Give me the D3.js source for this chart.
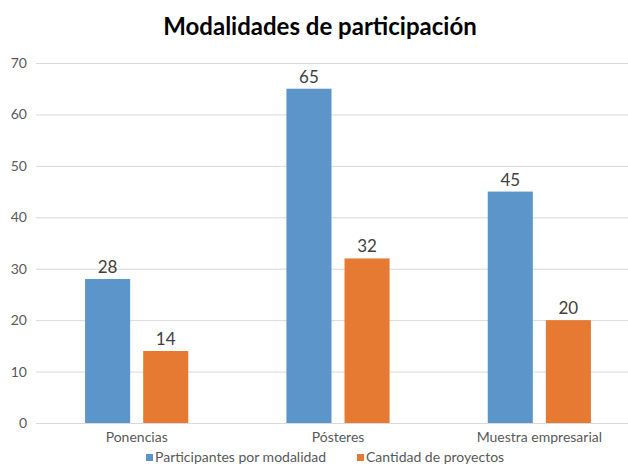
<!DOCTYPE html>
<html><head><meta charset="utf-8">
<script src="https://cdn.jsdelivr.net/npm/d3@7"></script>
<style>body{margin:0;background:#fff;} svg{display:block;font-family:Lato,"Open Sans",sans-serif;}</style>
</head><body><svg id="c" width="628" height="466"></svg>
<script>
const categories = ["Ponencias", "Pósteres", "Muestra empresarial"];
const seriesNames = ["Participantes por modalidad", "Cantidad de proyectos"];
const participantes = [28, 65, 45];
const proyectos = [14, 32, 20];
const yTicks = [0, 10, 20, 30, 40, 50, 60, 70];
const colors = ["#5B95CA", "#E67A33"];

const svg = d3.select("#c");
const x0 = 36, x1 = 640, yTop = 63, yBot = 423;

svg.append("text").attr("x", 320).attr("y", 35).attr("text-anchor", "middle")
  .attr("font-size", 24).attr("font-weight", "bold").attr("fill", "#000")
  .text("Modalidades de participación");

const y = d3.scaleLinear().domain([0, 70]).range([yBot, yTop]);
const x = d3.scaleBand().domain(categories).range([x0, x1]).paddingInner(0).paddingOuter(0);
const xs = d3.scaleBand().domain(seriesNames).range([0, x.bandwidth()]).paddingInner(13/58).paddingOuter(49/58);

const yAxis = d3.axisLeft(y).tickValues(yTicks).tickSize(-(x1 - x0)).tickPadding(9);
const ga = svg.append("g").attr("transform", `translate(${x0},0)`).call(yAxis);
ga.select(".domain").remove();
ga.selectAll(".tick line").attr("stroke", "#d9d9d9").attr("stroke-width", 1);
ga.selectAll(".tick text").attr("fill", "#595959").attr("font-size", 14).attr("font-family", "Lato, sans-serif");

const data = categories.map((c, i) => ({c, vals: [participantes[i], proyectos[i]]}));

const groups = svg.append("g").selectAll("g").data(data).join("g")
  .attr("transform", d => `translate(${x(d.c)},0)`);
groups.selectAll("rect").data(d => d.vals.map((v, j) => ({v, s: seriesNames[j], j})))
  .join("rect")
  .attr("x", d => xs(d.s)).attr("width", xs.bandwidth())
  .attr("y", d => y(d.v)).attr("height", d => y(0) - y(d.v))
  .attr("fill", d => colors[d.j]);
groups.selectAll("text").data(d => d.vals.map((v, j) => ({v, s: seriesNames[j], j})))
  .join("text")
  .attr("x", d => xs(d.s) + xs.bandwidth() / 2).attr("y", d => y(d.v) - 6)
  .attr("text-anchor", "middle").attr("font-size", 17).attr("fill", "#404040")
  .text(d => d.v);

const xAxis = d3.axisBottom(x).tickSize(0).tickPadding(9);
const gx = svg.append("g").attr("transform", `translate(0,${yBot})`).call(xAxis);
gx.select(".domain").attr("stroke", "#d9d9d9");
gx.selectAll(".tick text").attr("fill", "#595959").attr("font-size", 14).attr("font-family", "Lato, sans-serif");

const legX = [146, 357];
const leg = svg.append("g");
seriesNames.forEach((s, i) => {
  leg.append("rect").attr("x", legX[i]).attr("y", 454).attr("width", 7).attr("height", 7).attr("fill", colors[i]);
  leg.append("text").attr("x", legX[i] + 9).attr("y", 462).attr("font-size", 14).attr("fill", "#595959").text(s);
});
</script></body></html>
